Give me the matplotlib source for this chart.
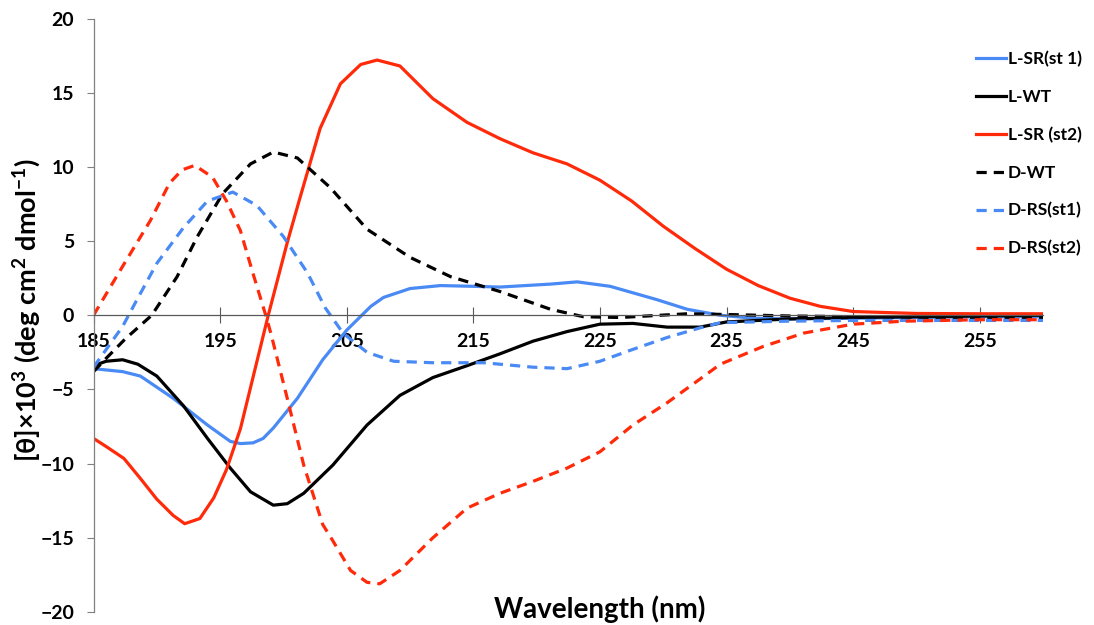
import matplotlib
matplotlib.use("Agg")
import matplotlib.pyplot as plt

plt.rcParams["font.family"] = ["Lato", "DejaVu Sans"]
plt.rcParams["font.weight"] = "bold"
plt.rcParams["mathtext.fontset"] = "custom"
plt.rcParams["mathtext.rm"] = "Lato:bold"
plt.rcParams["mathtext.default"] = "rm"

BLUE = "#4a8af4"
RED = "#ff2a0a"
BLACK = "#000000"

# L-SR(st 1), solid blue
x_lsr1 = [185, 187.3, 188.7, 191.3, 194, 195.8, 196.6, 197.6, 198.4, 199.2, 201.1, 203.1,
          205, 206.9, 207.9, 210, 212.4, 215, 217.1, 221.1, 223.2, 225.8, 229.5, 231.9,
          234.5, 237.1, 240, 245, 250, 255, 260]
y_lsr1 = [-3.6, -3.8, -4.1, -5.6, -7.4, -8.5, -8.65, -8.6, -8.3, -7.6, -5.6, -3.0,
          -1.0, 0.6, 1.2, 1.8, 2.0, 1.95, 1.9, 2.1, 2.25, 1.95, 1.05, 0.4,
          0.0, -0.2, -0.25, -0.2, -0.15, -0.1, -0.1]

# L-WT, solid black
x_lwt = [185, 186, 187.3, 188.5, 190, 192.1, 194, 195.8, 197.4, 199.2, 200.3, 201.6,
         203.9, 206.6, 209.2, 211.8, 214.5, 217.1, 219.7, 222.4, 225, 227.6, 230.3,
         232.9, 235, 240, 245, 250, 255, 260]
y_lwt = [-3.4, -3.1, -3.0, -3.3, -4.1, -6.1, -8.3, -10.3, -11.9, -12.8, -12.7, -12.0,
         -10.1, -7.4, -5.4, -4.2, -3.4, -2.6, -1.75, -1.1, -0.6, -0.55, -0.8,
         -0.8, -0.45, -0.25, -0.15, -0.1, -0.05, 0.0]

# L-SR (st2), solid red
x_lsr2 = [185, 186, 187.4, 188.7, 190, 191.3, 192.2, 193.4, 194.5, 195.5, 196.6, 198.8,
          200.3, 201.3, 202.9, 204.5, 206.1, 207.4, 209.2, 211.8, 214.5, 217.1, 219.7,
          222.4, 225, 227.5, 230, 232.5, 235, 237.5, 240, 242.4, 245, 250, 255, 260]
y_lsr2 = [-8.3, -8.85, -9.65, -11.0, -12.4, -13.5, -14.05, -13.7, -12.3, -10.4, -7.65, 0.0,
          4.9, 7.9, 12.6, 15.6, 16.9, 17.2, 16.8, 14.6, 13.0, 11.9, 10.95,
          10.2, 9.1, 7.7, 6.0, 4.5, 3.1, 2.0, 1.15, 0.6, 0.25, 0.12, 0.1, 0.1]

# D-WT, dashed black
x_dwt = [185, 186, 187.5, 189.6, 191.6, 193.2, 195.2, 197.4, 199.2, 201.1, 203.7, 206.6,
         210, 213.2, 217.1, 221.1, 223.7, 226.6, 231.9, 235, 240, 245, 250, 255, 260]
y_dwt = [-3.8, -2.9, -1.6, 0.0, 2.6, 5.3, 8.2, 10.2, 11.0, 10.6, 8.6, 5.8,
         3.9, 2.6, 1.6, 0.4, -0.1, -0.15, 0.1, 0.05, -0.05, -0.1, -0.15, -0.15, -0.15]

# D-RS(st1), dashed blue
x_drs1 = [185, 187.3, 188.4, 190, 192.1, 194, 196, 197.9, 200, 201.9, 203.3, 204.7,
          206.6, 208.7, 211.8, 215.8, 219.7, 222.4, 225, 227.6, 230.3, 232.9, 234.5,
          239.8, 245, 250, 255, 260]
y_drs1 = [-3.5, -0.75, 1.0, 3.5, 5.9, 7.7, 8.3, 7.4, 5.3, 2.85, 0.5, -1.2,
          -2.5, -3.1, -3.2, -3.2, -3.5, -3.6, -3.1, -2.3, -1.5, -0.85, -0.5,
          -0.4, -0.35, -0.35, -0.35, -0.35]

# D-RS(st2), dashed red
x_drs2 = [185, 187.3, 189.5, 191, 192, 193, 194.4, 195.5, 196.6, 197.6, 198.6, 199, 200.3,
          201.6, 203.1, 203.9, 205.3, 206.6, 207.6, 209.2, 211.8, 214.5, 217.1, 219.7,
          222.4, 225, 227.6, 230.3, 232.9, 234.5, 237.9, 241.1, 245, 249, 255, 260]
y_drs2 = [0.0, 3.3, 6.4, 8.9, 9.8, 10.1, 9.3, 7.7, 5.7, 2.8, 0.0, -1.2, -5.6,
          -10.1, -14.1, -15.2, -17.2, -18.0, -18.1, -17.2, -15.0, -13.0, -12.0, -11.2,
          -10.3, -9.2, -7.4, -5.9, -4.3, -3.3, -2.1, -1.2, -0.6, -0.4, -0.3, -0.3]

x_ticks = [185, 195, 205, 215, 225, 235, 245, 255]
y_ticks = [-20, -15, -10, -5, 0, 5, 10, 15, 20]

fig = plt.figure(figsize=(10.94, 6.25), dpi=100)
ax = fig.add_axes([0.0855, 0.0208, 0.868, 0.9496])

lw = 2.3
dash = (3.2, 2.2)
ax.plot(x_lsr1, y_lsr1, color=BLUE, lw=lw, label="L-SR(st 1)")
ax.plot(x_lwt, y_lwt, color=BLACK, lw=lw, label="L-WT")
ax.plot(x_lsr2, y_lsr2, color=RED, lw=lw, label="L-SR (st2)")
ax.plot(x_dwt, y_dwt, color=BLACK, lw=lw, dashes=dash, label="D-WT")
ax.plot(x_drs1, y_drs1, color=BLUE, lw=lw, dashes=dash, label="D-RS(st1)")
ax.plot(x_drs2, y_drs2, color=RED, lw=lw, dashes=dash, label="D-RS(st2)")

ax.set_xlim(185, 260)
ax.set_ylim(-20, 20)
ax.set_xticks(x_ticks)
ax.set_yticks(y_ticks)

for s in ["top", "right"]:
    ax.spines[s].set_visible(False)
ax.spines["bottom"].set_position(("data", 0))
ax.spines["bottom"].set_color("#595959")
ax.spines["bottom"].set_linewidth(0.9)
ax.spines["left"].set_color("#808080")
ax.spines["left"].set_linewidth(0.9)

ax.tick_params(axis="x", direction="inout", length=11, width=0.8, color="#595959",
               pad=7, labelsize=14)
ax.tick_params(axis="y", direction="out", length=5, width=0.8, color="#808080",
               pad=9, labelsize=14)
for lab in ax.get_xticklabels() + ax.get_yticklabels():
    lab.set_fontweight("bold")

fig.text(600 / 1094, 1 - 609 / 625, "Wavelength (nm)", ha="center", va="center",
         fontsize=20, fontweight="bold")
fig.text(27 / 1094, 1 - 310 / 625,
         r"[θ]×10$^{3}$ (deg cm$^{2}$ dmol$^{-1}$)", ha="center", va="center",
         rotation=90, fontsize=19.5, fontweight="bold")

leg = ax.legend(loc="upper left", bbox_to_anchor=(976 / 1094, 1 - 51 / 625),
                bbox_transform=fig.transFigure, frameon=False, fontsize=12.5,
                handlelength=1.7, handletextpad=0.15, labelspacing=1.25,
                borderpad=0, borderaxespad=0)
for t in leg.get_texts():
    t.set_fontweight("bold")

fig.savefig("out.png", dpi=100)
